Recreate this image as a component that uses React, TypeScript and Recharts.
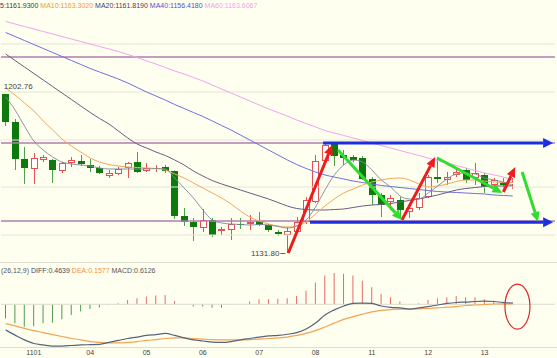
import React from 'react';
import { ComposedChart, Bar, Line, XAxis, YAxis, ReferenceLine, ReferenceDot, Cell } from 'recharts';

// 4h candles, six per trading day; only the day labels are shown on the axis
const DAY_LABELS = ['1101', '04', '05', '06', '07', '08', '11', '12', '13'];
const DAY_START = [3, 9, 15, 21, 27, 33, 39, 45, 51];
const SLOTS = 59; // 55 candles plus empty room on the right

const OPEN = [1202.76, 1190.26, 1173.75, 1169.29, 1173.3, 1173.3, 1168.4, 1171.97, 1172.86, 1171.07,
  1169.73, 1166.16, 1167.06, 1169.73, 1172.41, 1168.4, 1169.29, 1170.18, 1168.4, 1148.31,
  1145.63, 1142.96, 1146.53, 1141.62, 1142.06, 1144.9, 1144.74, 1146.08, 1144.3, 1141.17,
  1139.83, 1141.17, 1145.63, 1154.56, 1172.86, 1180.45, 1175.54, 1174.64, 1174.2, 1164.83,
  1157.68, 1154.56, 1155.45, 1150.1, 1151.88, 1156.79, 1165.72, 1164.38, 1166.61, 1168.84,
  1165.27, 1166.61, 1162.15, 1163.04, 1162.6];
const HIGH = [1202.76, 1191.6, 1179.11, 1176.43, 1175.54, 1173.75, 1172.41, 1174.64, 1175.54, 1173.75,
  1170.63, 1168.84, 1170.18, 1172.41, 1176.88, 1171.97, 1171.07, 1171.07, 1168.62, 1151.88,
  1147.42, 1151.43, 1147.42, 1143.4, 1147.42, 1147.42, 1148.76, 1150.1, 1144.74, 1142.06,
  1143.4, 1147.87, 1156.79, 1175.54, 1180.89, 1180.89, 1177.8, 1175.54, 1175.09, 1165.72,
  1158.58, 1157.68, 1156.79, 1153.22, 1158.58, 1166.61, 1174.64, 1167.95, 1169.73, 1169.73,
  1171.97, 1167.5, 1165.27, 1165.27, 1165.27];
const LOW = [1188.48, 1168.84, 1162.59, 1162.59, 1172.41, 1163.04, 1167.5, 1170.18, 1170.63, 1167.95,
  1167.06, 1165.27, 1166.61, 1165.27, 1167.5, 1167.95, 1167.95, 1167.5, 1146.97, 1143.85,
  1137.16, 1141.17, 1138.94, 1139.83, 1137.6, 1142.51, 1142.06, 1143.85, 1141.17, 1139.4,
  1131.8, 1140.73, 1144.74, 1154.1, 1172.41, 1170.63, 1171.07, 1172.41, 1164.38, 1153.22,
  1147.87, 1150.99, 1146.97, 1147.42, 1150.99, 1156.35, 1163.04, 1162.15, 1165.72, 1163.04,
  1162.15, 1158.58, 1159.02, 1160.8, 1160.36];
const CLOSE = [1190.26, 1173.75, 1169.73, 1174.2, 1174.64, 1168.84, 1171.97, 1173.3, 1171.52, 1169.73,
  1167.5, 1167.5, 1169.29, 1171.97, 1167.95, 1169.73, 1169.73, 1168.4, 1148.31, 1145.63,
  1143.4, 1146.53, 1139.83, 1142.51, 1144.74, 1144.6, 1145.63, 1144.3, 1142.06, 1140.28,
  1141.62, 1145.63, 1155.45, 1172.86, 1180.0, 1175.09, 1174.2, 1173.3, 1164.83, 1157.68,
  1153.22, 1156.35, 1150.99, 1151.88, 1156.35, 1165.72, 1164.83, 1165.72, 1167.95, 1164.38,
  1167.5, 1161.26, 1164.38, 1162.15, 1163.04];

const MA5 = [1201.42, 1195.62, 1188.48, 1181.78, 1177.76, 1174.64, 1172.41, 1171.52, 1171.07, 1170.62,
  1169.73, 1169.29, 1169.29, 1169.29, 1169.29, 1169.29, 1169.51, 1169.29, 1165.27, 1160.81,
  1156.34, 1150.99, 1146.52, 1145.19, 1144.74, 1144.52, 1144.29, 1144.52, 1144.29, 1143.62,
  1142.95, 1143.85, 1146.52, 1152.33, 1159.91, 1166.61, 1171.07, 1173.3, 1172.41, 1168.84,
  1164.38, 1161.25, 1157.24, 1155.9, 1155.9, 1158.57, 1161.7, 1164.82, 1167.05, 1167.5,
  1167.05, 1165.27, 1164.38, 1163.48, 1161.93];
const MA10 = [1205.44, 1202.31, 1198.74, 1195.17, 1190.71, 1186.69, 1182.67, 1179.55, 1176.87, 1174.19,
  1172.41, 1171.29, 1170.62, 1170.18, 1169.96, 1169.73, 1169.51, 1168.84, 1167.05, 1165.27,
  1163.04, 1160.81, 1158.57, 1156.34, 1153.66, 1150.54, 1147.86, 1146.08, 1144.74, 1143.85,
  1143.4, 1143.85, 1145.63, 1149.2, 1152.77, 1155.9, 1158.57, 1160.36, 1162.14, 1163.48,
  1164.38, 1165.05, 1165.27, 1164.38, 1162.59, 1161.25, 1161.7, 1162.59, 1163.71, 1164.38,
  1164.38, 1163.93, 1163.48, 1163.26, 1163.3];
const MA20 = [1220.61, 1217.71, 1214.81, 1211.91, 1209.01, 1206.11, 1203.2, 1200.3, 1197.4, 1194.5,
  1191.82, 1189.37, 1186.24, 1183.12, 1180.44, 1178.66, 1176.87, 1175.31, 1173.3, 1171.07,
  1168.39, 1166.16, 1164.15, 1162.59, 1161.25, 1159.91, 1158.57, 1157.24, 1155.9, 1154.33,
  1152.77, 1151.66, 1151.21, 1150.99, 1150.99, 1151.21, 1151.43, 1152.1, 1152.77, 1153.22,
  1153.44, 1153.89, 1154.56, 1155.23, 1155.9, 1156.79, 1157.68, 1158.8, 1159.91, 1160.58,
  1161.03, 1161.48, 1161.7, 1161.7, 1161.82];
const MA40 = [1230.21, 1228.42, 1226.63, 1224.85, 1223.06, 1221.28, 1219.49, 1217.71, 1215.92, 1214.14,
  1212.58, 1211.01, 1209.45, 1207.67, 1205.66, 1203.65, 1201.87, 1200.08, 1198.07, 1196.29,
  1194.5, 1192.72, 1190.71, 1188.7, 1186.69, 1184.46, 1182.23, 1180.0, 1177.76, 1175.53,
  1173.3, 1171.29, 1169.51, 1167.95, 1166.61, 1165.71, 1164.82, 1163.93, 1163.26, 1162.59,
  1161.92, 1161.48, 1161.03, 1160.58, 1160.14, 1159.69, 1159.24, 1159.02, 1158.8, 1158.57,
  1158.35, 1158.13, 1157.68, 1157.46, 1157.24];
const MA60 = [1235.11, 1234.0, 1232.88, 1231.77, 1230.65, 1229.54, 1228.42, 1227.3, 1226.19, 1225.07,
  1223.96, 1222.84, 1221.73, 1220.39, 1219.05, 1217.49, 1216.15, 1214.58, 1213.02, 1211.68,
  1210.12, 1208.56, 1206.77, 1204.99, 1203.2, 1201.42, 1199.63, 1197.85, 1196.06, 1194.5,
  1192.94, 1191.15, 1189.59, 1188.03, 1186.47, 1185.35, 1184.24, 1183.12, 1182.0, 1180.89,
  1179.77, 1178.66, 1177.54, 1176.43, 1175.31, 1174.19, 1173.08, 1171.96, 1170.85, 1169.73,
  1168.62, 1167.5, 1166.61, 1165.71, 1164.3];

const HIST = [-5.0, -6.8, -8.0, -7.8, -6.8, -6.6, -5.3, -3.8, -2.6, -1.7,
  -1.1, -0.25, 0.35, 1.5, 2.2, 2.8, 3.1, 3.35, 1.2, 0,
  -0.8, -0.8, -1.2, -1.2, -0.2, 0.05, 1.0, 1.8, 1.8, 2.0,
  2.2, 3.0, 4.8, 7.8, 10.3, 11.2, 10.9, 10.3, 8.4, 6.1,
  3.7, 2.5, 1.0, 0.1, 0.35, 1.55, 2.15, 2.5, 3.0, 2.5,
  2.5, 1.8, 1.3, 0.95, 0.61];
const DIFF = [-9.2, -11.0, -12.7, -14.0, -14.5, -14.9, -14.9, -14.7, -14.5, -14.4,
  -14.3, -13.6, -12.9, -12.2, -11.7, -11.1, -10.8, -10.4, -11.1, -12.0,
  -12.7, -13.1, -13.5, -13.6, -13.3, -12.7, -12.2, -11.7, -11.3, -11.1,
  -10.7, -10.1, -8.8, -6.7, -3.8, -2.0, -0.6, 0.3, 0.45, 0.3,
  -0.6, -1.1, -1.3, -1.7, -1.3, -0.8, -0.25, 0.3, 0.65, 0.8,
  1.0, 1.1, 1.0, 0.65, 0.46];
const DEA = [-6.9, -7.7, -8.6, -9.4, -10.1, -10.8, -11.5, -12.2, -12.7, -13.3,
  -13.6, -13.8, -13.8, -13.6, -13.3, -12.9, -12.6, -12.2, -12.0, -12.0,
  -12.2, -12.4, -12.6, -12.7, -12.7, -12.7, -12.6, -12.4, -12.2, -12.0,
  -11.7, -11.1, -10.4, -9.4, -8.1, -6.7, -5.4, -4.4, -3.5, -2.7,
  -2.2, -1.9, -1.7, -1.7, -1.6, -1.5, -1.3, -1.0, -0.8, -0.43,
  -0.25, -0.07, 0.1, 0.18, 0.16];

const GRID_PRICES = [1225.07, 1203.65, 1182.23, 1161.25, 1139.83];
const LEVELS = [1219.27, 1180.89, 1146.08];
// hand-drawn annotations, [candle index, price]
const CHANNEL = [[[33.8, 1180.89], [58.3, 1180.89]], [[32.4, 1145.5], [58.3, 1145.5]]];
const UP_MOVES = [[[30.1, 1131.8], [34.77, 1180.0]], [[42.2, 1146.52], [45.74, 1174.64]], [[53.0, 1159.02], [54.26, 1170.18]]];
const DOWN_MOVES = [[[35.4, 1177.76], [42.2, 1146.52]], [[45.95, 1174.2], [52.9, 1158.57]], [[55.0, 1167.95], [56.7, 1145.63]]];

const PRICE_DOMAIN = [1127.78, 1240.25];
const MACD_DOMAIN = [-15.24, 14.74];

const BG = '#fffff0';
const RED = '#e65050';
const FONT = '"Liberation Sans", Arial, sans-serif';

const rows = Array.from({ length: SLOTS }, (_, i) => ({
  i,
  o: OPEN[i] ?? null, h: HIGH[i] ?? null, l: LOW[i] ?? null, c: CLOSE[i] ?? null,
  ma5: MA5[i] ?? null, ma10: MA10[i] ?? null, ma20: MA20[i] ?? null, ma40: MA40[i] ?? null, ma60: MA60[i] ?? null,
  hist: HIST[i] ?? null, diff: DIFF[i] ?? null, dea: DEA[i] ?? null,
}));

function Candle(props: any) {
  const { x, y, width, height, payload } = props;
  if (!payload || payload.h == null) return null;
  const { o, h, l, c } = payload;
  const top = Math.min(y, y + height);
  const k = Math.abs(height) / (h - l);
  const py = (v: number) => top + (h - v) * k;
  const cx = Math.floor(x + width / 2) + 0.5;
  const bTop = Math.round(py(Math.max(o, c)));
  let bBot = Math.round(py(Math.min(o, c)));
  if (bBot - bTop < 1) bBot = bTop + 1;
  if (c < o) {
    return (
      <g>
        <line x1={cx} x2={cx} y1={py(h)} y2={py(l)} stroke="#4aa44a" />
        <rect x={cx - 3.5} y={bTop} width={7} height={bBot - bTop} fill="#0e7a0e" />
      </g>
    );
  }
  return (
    <g>
      <line x1={cx} x2={cx} y1={py(h)} y2={bTop} stroke={RED} />
      <line x1={cx} x2={cx} y1={bBot} y2={py(l)} stroke={RED} />
      <rect x={cx - 3} y={bTop + 0.5} width={6} height={Math.max(bBot - bTop - 1, 0)} fill="#ffffff" stroke={RED} />
    </g>
  );
}

const arrow = (color: string, w: number, head: number, half: number) => (p: any) => {
  const { x1, y1, x2, y2 } = p;
  const len = Math.hypot(x2 - x1, y2 - y1) || 1;
  const ux = (x2 - x1) / len;
  const uy = (y2 - y1) / len;
  const bx = x2 - ux * head;
  const by = y2 - uy * head;
  return (
    <g>
      <line x1={x1} y1={y1} x2={bx} y2={by} stroke={color} strokeWidth={w} />
      <polygon points={`${x2},${y2} ${bx - uy * half},${by + ux * half} ${bx + uy * half},${by - ux * half}`} fill={color} />
    </g>
  );
};

const dayTick = (v: any) => {
  const k = DAY_START.indexOf(v);
  return k >= 0 ? DAY_LABELS[k] : '';
};

export default function App() {
  return (
    <div style={{ position: 'absolute', left: 0, top: 0, width: 557, height: 358, background: BG, overflow: 'hidden', fontFamily: FONT }}>
      <div style={{ position: 'absolute', left: 0, top: 0 }}>
        <ComposedChart width={557} height={263} data={rows} margin={{ top: 10, right: 2, bottom: 1, left: 1 }}>
          <XAxis dataKey="i" type="category" hide />
          <XAxis xAxisId="n" dataKey="i" type="number" domain={[-0.5, SLOTS - 0.5]} hide />
          <YAxis hide domain={PRICE_DOMAIN} allowDataOverflow />
          {GRID_PRICES.map((p) => (
            <ReferenceLine key={'g' + p} y={p} stroke="#e6e6d6" strokeWidth={1.2} />
          ))}
          {LEVELS.map((p) => (
            <ReferenceLine key={'lv' + p} y={p} stroke="#b07cb2" strokeWidth={1.6} />
          ))}
          <Bar dataKey={(d: any) => (d.h == null ? null : [d.l, d.h])} shape={(p: any) => <Candle {...p} />} isAnimationActive={false} />
          <Line dataKey="ma60" stroke="#f2a2ee" dot={false} strokeWidth={1} type="monotone" isAnimationActive={false} />
          <Line dataKey="ma40" stroke="#6f6fe0" dot={false} strokeWidth={1} type="monotone" isAnimationActive={false} />
          <Line dataKey="ma20" stroke="#6c5a85" dot={false} strokeWidth={1} type="monotone" isAnimationActive={false} />
          <Line dataKey="ma10" stroke="#f5a55a" dot={false} strokeWidth={1} type="monotone" isAnimationActive={false} />
          <Line dataKey="ma5" stroke="#7c8a9a" dot={false} strokeWidth={0.9} type="monotone" isAnimationActive={false} />
          {CHANNEL.map((s, k) => (
            <ReferenceLine key={'ch' + k} xAxisId="n" segment={[{ x: s[0][0], y: s[0][1] }, { x: s[1][0], y: s[1][1] }]}
              shape={arrow('#1b2fe0', 3, 10, 5)} />
          ))}
          {UP_MOVES.map((s, k) => (
            <ReferenceLine key={'up' + k} xAxisId="n" segment={[{ x: s[0][0], y: s[0][1] }, { x: s[1][0], y: s[1][1] }]}
              shape={arrow('#ee1c1c', 3, 10, 4.5)} />
          ))}
          {DOWN_MOVES.map((s, k) => (
            <ReferenceLine key={'dn' + k} xAxisId="n" segment={[{ x: s[0][0], y: s[0][1] }, { x: s[1][0], y: s[1][1] }]}
              shape={arrow('#2fdc2f', 3, 10, 4.5)} />
          ))}
          <ReferenceDot xAxisId="n" x={0} y={HIGH[0]} shape={(p: any) => (
            <text x={p.cx - 2} y={p.cy - 5} fontSize={8} fill="#444" fontFamily={FONT}>{HIGH[0].toFixed(2)}</text>
          )} />
          <ReferenceDot xAxisId="n" x={30} y={LOW[30]} shape={(p: any) => (
            <g>
              <text x={p.cx - 8} y={p.cy + 3} fontSize={8} fill="#444" textAnchor="end" fontFamily={FONT}>{LOW[30].toFixed(2)}</text>
              <line x1={p.cx - 7} x2={p.cx - 2} y1={p.cy + 0.5} y2={p.cy + 0.5} stroke="#666" />
            </g>
          )} />
        </ComposedChart>
      </div>

      <div style={{ position: 'absolute', left: 0, top: 263 }}>
        <ComposedChart width={557} height={95} data={rows} margin={{ top: 0, right: 2, bottom: 0, left: 1 }}>
          <XAxis dataKey="i" type="category" height={11} interval={0} tickFormatter={dayTick}
            axisLine={false} tickLine={false} tickSize={0} tickMargin={3}
            tick={{ fontSize: 7, fill: '#444', fontFamily: FONT }} />
          <XAxis xAxisId="n" dataKey="i" type="number" domain={[-0.5, SLOTS - 0.5]} hide />
          <YAxis hide domain={MACD_DOMAIN} allowDataOverflow />
          <ReferenceLine y={0} stroke="#dcdccc" strokeWidth={1} />
          <Bar dataKey="hist" barSize={1} isAnimationActive={false}>
            {rows.map((r) => (
              <Cell key={r.i} fill={(r.hist ?? 0) >= 0 ? '#e46a6a' : '#4c9e4c'} />
            ))}
          </Bar>
          <Line dataKey="dea" stroke="#f4a352" dot={false} strokeWidth={1.2} type="monotone" isAnimationActive={false} />
          <Line dataKey="diff" stroke="#56647a" dot={false} strokeWidth={1.2} type="monotone" isAnimationActive={false} />
          <ReferenceDot xAxisId="n" x={54.5} y={-0.8} shape={(p: any) => (
            <ellipse cx={p.cx} cy={p.cy} rx={12.5} ry={22.5} fill="none" stroke="#e02828" strokeWidth={1.2} />
          )} />
        </ComposedChart>
      </div>

      <svg width={557} height={358} style={{ position: 'absolute', left: 0, top: 0, pointerEvents: 'none' }}>
        <line x1={0} x2={557} y1={262.5} y2={262.5} stroke="#deded0" />
        <line x1={0} x2={557} y1={347.5} y2={347.5} stroke="#deded0" />
        <text x={0} y={8} fontSize={7} fontFamily={FONT}>
          <tspan fill="#3a3a3a">5:1161.9300 </tspan>
          <tspan fill="#f0963c">MA10:1163.3020 </tspan>
          <tspan fill="#3c3c6e">MA20:1161.8190 </tspan>
          <tspan fill="#5050d0">MA40:1156.4180 </tspan>
          <tspan fill="#f0a0f0">MA60:1163.6067</tspan>
        </text>
        <text x={1} y={273} fontSize={7} fontFamily={FONT}>
          <tspan fill="#555">(26,12,9) </tspan>
          <tspan fill="#3c4a60">DIFF:0.4639 </tspan>
          <tspan fill="#f09040">DEA:0.1577 </tspan>
          <tspan fill="#555">MACD:0.6126</tspan>
        </text>
      </svg>
    </div>
  );
}
